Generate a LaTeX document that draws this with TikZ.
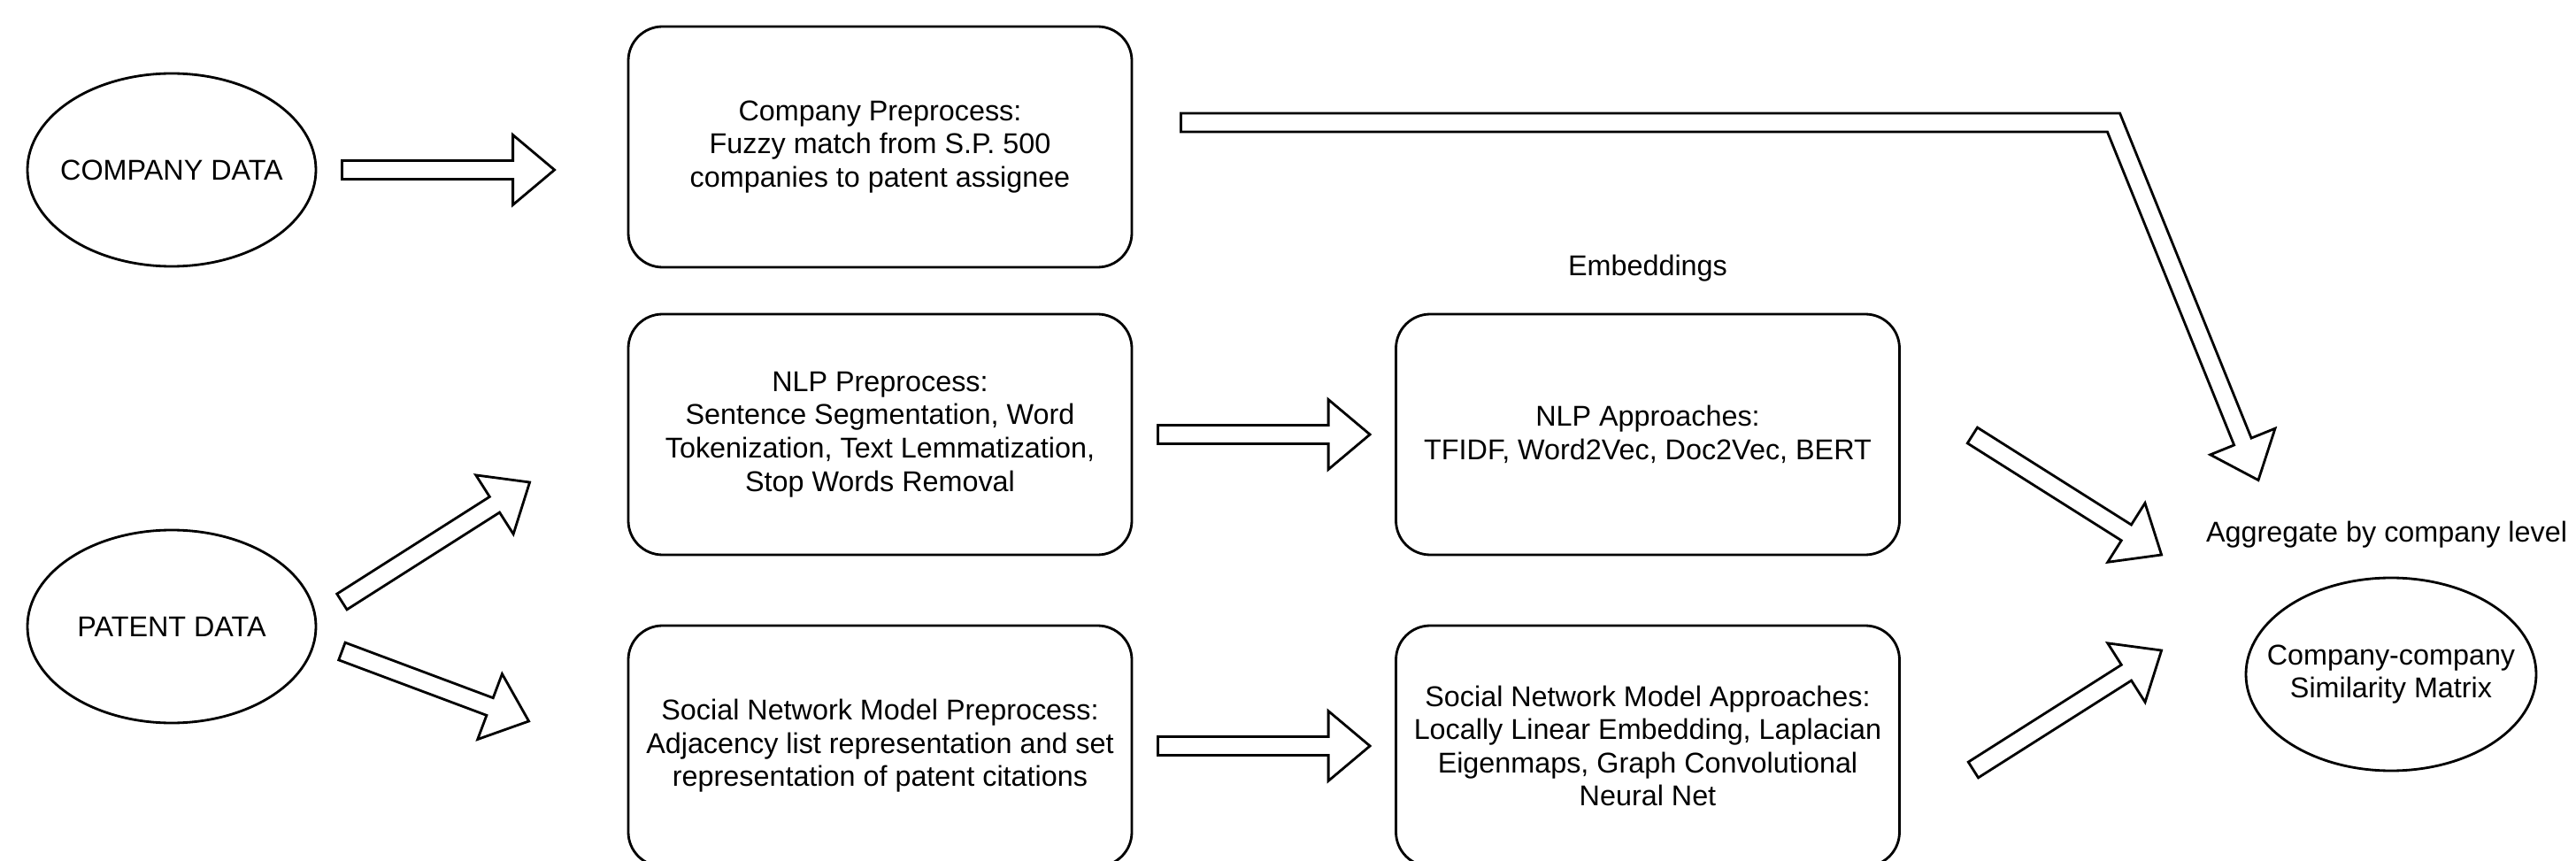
\documentclass[tikz,border=0pt]{standalone}
\usepackage{fontspec}
\setmainfont{Liberation Sans}
\usetikzlibrary{shapes.geometric,calc}

% hohler Blockpfeil von #1 nach #2
\newcommand{\fatarrow}[2]{%
	\coordinate (fs) at (#1);
	\coordinate (ft) at (#2);
	\coordinate (fb) at ($(ft)!\hl!(fs)$);
	\draw[fatline] ($(fs)!\sw!90:(ft)$) -- ($(fb)!\sw!90:(ft)$) -- ($(fb)!\hw!90:(ft)$) -- (ft)
		-- ($(fb)!\hw!-90:(ft)$) -- ($(fb)!\sw!-90:(ft)$) -- ($(fs)!\sw!-90:(ft)$) -- cycle;
}

\begin{document}
\begin{tikzpicture}
	\tikzset{
	every node/.style={font=\fontsize{9.2}{10.7}\selectfont},
	datanode/.style={ellipse, draw, line width=0.8pt, inner sep=0pt, minimum width=3.26cm, minimum height=2.18cm,
		label={[align=center]center:#1}},
	stepbox/.style={draw, line width=0.8pt, rounded corners=11pt, minimum width=5.69cm, minimum height=2.72cm, align=center},
	fatline/.style={draw, line width=0.8pt, line join=miter}}
	\def\sw{0.105cm}
	\def\hw{0.395cm}
	\def\hl{0.47cm}

	\useasboundingbox (0,0) rectangle (29.11,9.72);

%Eingaben
	\node[datanode={COMPANY DATA}] (cdata) at (1.94,7.80) {};
	\node[datanode={PATENT DATA}] (pdata) at (1.94,2.64) {};

%Preprocessing
	\node[stepbox] (cpre) at (9.945,8.06) {Company Preprocess:\\Fuzzy match from S.P. 500\\companies to patent assignee};
	\node[stepbox] (nlppre) at (9.945,4.81) {NLP Preprocess:\\Sentence Segmentation, Word\\Tokenization, Text Lemmatization,\\Stop Words Removal};
	\node[stepbox] (snmpre) at (9.945,1.29) {Social Network Model Preprocess:\\Adjacency list representation and set\\representation of patent citations};

%Embeddings
	\node (emb) at (18.62,6.69) {Embeddings};
	\node[stepbox] (nlpapp) at (18.62,4.81) {NLP Approaches:\\TFIDF, Word2Vec, Doc2Vec, BERT};
	\node[stepbox] (snmapp) at (18.62,1.29) {Social Network Model Approaches:\\Locally Linear Embedding, Laplacian\\Eigenmaps, Graph Convolutional\\Neural Net};

%Ergebnis
	\node (agg) at (26.97,3.68) {Aggregate by company level};
	\node[datanode={Company-company\\Similarity Matrix}, minimum width=3.28cm] (mat) at (27.02,2.10) {};

%Pfeile
	\fatarrow{$(cdata.east)+(0.28,0)$}{$(cpre.west)+(-0.82,-0.26)$}
	\fatarrow{$(pdata.east)+(0.28,0.28)$}{$(nlppre.west)+(-1.10,-0.54)$}
	\fatarrow{$(pdata.east)+(0.28,-0.28)$}{$(snmpre.west)+(-1.11,0.28)$}
	\fatarrow{$(nlppre.east)+(0.28,0)$}{$(nlpapp.west)+(-0.28,0)$}
	\fatarrow{$(snmpre.east)+(0.28,0)$}{$(snmapp.west)+(-0.28,0)$}
	\fatarrow{$(nlpapp.east)+(0.81,-0.01)$}{$(mat.west)+(-0.94,1.35)$}
	\fatarrow{$(snmapp.east)+(0.82,-0.27)$}{$(mat.west)+(-0.94,0.27)$}

	%geknickter Pfeil oben
	\coordinate (bt) at ($(cpre.east)+(0.54,0.275)$);
	\coordinate (bc) at ($(bt)+(10.54,0)$);
	\coordinate (bh) at ($(mat.north)+(-1.50,1.09)$);
	\coordinate (bb) at ($(bh)!\hl!(bc)$);
	\coordinate (o1) at ($(bt)!\sw!90:(bc)$);
	\coordinate (o2) at ($(bc)!\sw!-90:(bt)$);
	\coordinate (o3) at ($(bc)!\sw!90:(bh)$);
	\coordinate (o4) at ($(bb)!\sw!90:(bh)$);
	\coordinate (i1) at ($(bt)!\sw!-90:(bc)$);
	\coordinate (i2) at ($(bc)!\sw!90:(bt)$);
	\coordinate (i3) at ($(bc)!\sw!-90:(bh)$);
	\coordinate (i4) at ($(bb)!\sw!-90:(bh)$);
	\draw[fatline] (o1) -- (intersection of o1--o2 and o3--o4) -- (o4) -- ($(bb)!\hw!90:(bh)$) -- (bh)
		-- ($(bb)!\hw!-90:(bh)$) -- (i4) -- (intersection of i1--i2 and i3--i4) -- (i1) -- cycle;

\end{tikzpicture}
\end{document}
